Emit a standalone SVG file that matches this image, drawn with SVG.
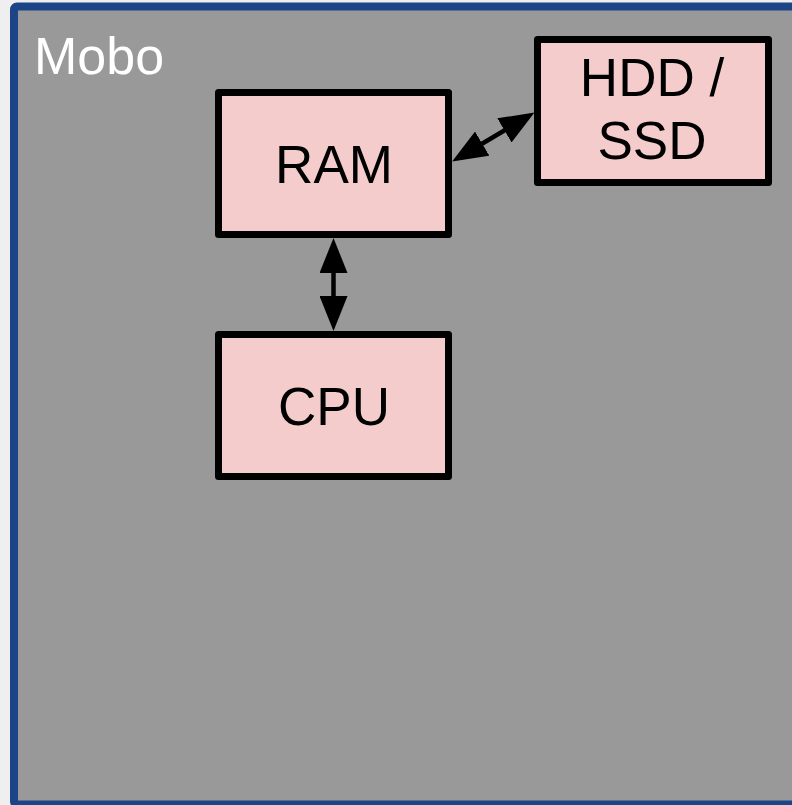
<svg xmlns="http://www.w3.org/2000/svg" width="792" height="805" viewBox="0 0 792 805">
  <style>
    .node rect { fill: #f4cccc; stroke: #000000; stroke-width: 7; stroke-linejoin: round; }
    .label { font-family: "Liberation Sans", Arial, sans-serif; font-size: 53px; fill: #000000; text-anchor: middle; }
    .conn { stroke: #000000; stroke-width: 4.5; fill: none; }
  </style>
  <defs>
    <marker id="head" markerUnits="userSpaceOnUse" markerWidth="35" markerHeight="28" viewBox="0 0 35 28" refX="10" refY="14" orient="auto-start-reverse">
      <path d="M0,0 L35,14 L0,28 z" fill="#000000"/>
    </marker>
  </defs>
  <rect x="0" y="0" width="792" height="805" fill="#efefef"/>
  <g id="mobo">
    <rect x="14" y="6.5" width="800" height="798" rx="3" fill="#999999" stroke="#1c4587" stroke-width="8"/>
    <text x="34" y="74" font-family="Liberation Sans, Arial, sans-serif" font-size="52" fill="#ffffff">Mobo</text>
  </g>
  <g id="ram" class="node">
    <rect x="218.5" y="92.5" width="230" height="142"/>
    <text class="label" x="334" y="183">RAM</text>
  </g>
  <g id="cpu" class="node">
    <rect x="218.5" y="334.5" width="230" height="142"/>
    <text class="label" x="334" y="425">CPU</text>
  </g>
  <g id="hdd" class="node">
    <rect x="537.5" y="39.5" width="231" height="143"/>
    <text class="label" x="652" y="96">HDD /</text>
    <text class="label" x="652" y="159">SSD</text>
  </g>
  <g id="connectors">
    <line class="conn" x1="333.5" y1="263" x2="333.5" y2="306" marker-start="url(#head)" marker-end="url(#head)"/>
    <line class="conn" x1="473.6" y1="148.7" x2="513.0" y2="125.3" marker-start="url(#head)" marker-end="url(#head)"/>
  </g>
</svg>
